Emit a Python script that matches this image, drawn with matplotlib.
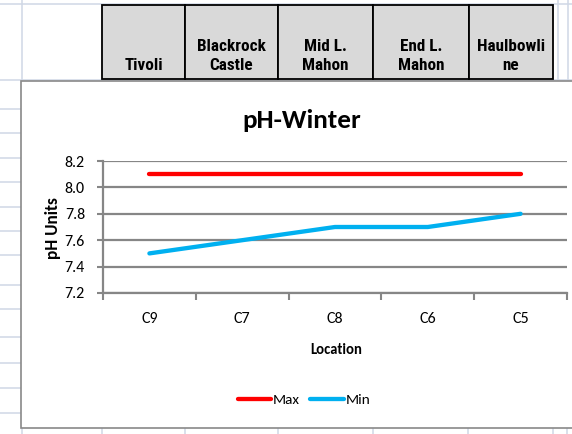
import matplotlib
matplotlib.use("Agg")
import matplotlib.pyplot as plt
from matplotlib.lines import Line2D
from matplotlib.patches import Rectangle
from matplotlib.ticker import FixedLocator, NullFormatter, FixedFormatter

stations = ["C9", "C7", "C8", "C6", "C5"]
ph_max = [8.1, 8.1, 8.1, 8.1, 8.1]
ph_min = [7.5, 7.6, 7.7, 7.7, 7.8]
header_names = ["Tivoli", "Blackrock\nCastle", "Mid L.\nMahon", "End L.\nMahon", "Haulbowli\nne"]
y_ticks = [7.2, 7.4, 7.6, 7.8, 8.0, 8.2]

W, H = 572, 434
GRID = "#d0d7e5"
AXGRAY = "#868686"
CHART_FONT = "Carlito"


def fx(px):
    return px / W


def fy(py):
    return 1 - py / H


fig = plt.figure(figsize=(W / 100, H / 100), dpi=100)
fig.patch.set_facecolor("white")


def sheet_line(x0, y0, x1, y1):
    fig.add_artist(Line2D([fx(x0), fx(x1)], [fy(y0), fy(y1)], color=GRID, lw=1.1,
                          transform=fig.transFigure, zorder=0))


# spreadsheet grid behind everything
sheet_line(0, 4, W, 4)
sheet_line(0, 80, W, 80)
for yy in [109, 133, 158, 182, 207, 231, 255, 285, 309, 337, 363, 388, 413]:
    sheet_line(0, yy, 21, yy)
for xx in [22, 558, 568]:
    sheet_line(xx, 0, xx, 80)
for xx in [22, 102, 185, 278, 373, 468, 553, 567]:
    sheet_line(xx, 428, xx, H)

# header table
col_edges = [102, 185, 278, 373, 469, 553]
for i, name in enumerate(header_names):
    x0, x1 = col_edges[i], col_edges[i + 1]
    fig.add_artist(Rectangle((fx(x0), fy(79)), fx(x1) - fx(x0), fy(5) - fy(79),
                             transform=fig.transFigure, facecolor="#d9d9d9",
                             edgecolor="black", lw=1.3, zorder=1))
    fig.text(fx((x0 + x1) / 2), fy(73), name, ha="center", va="bottom",
             fontsize=12.3, fontweight="bold", family="Roboto Condensed",
             linespacing=1.3, zorder=2)

# chart area frame
fig.add_artist(Rectangle((fx(21), fy(428)), fx(W + 20) - fx(21), fy(81) - fy(428),
                         transform=fig.transFigure, facecolor="white",
                         edgecolor="#898989", lw=1.2, zorder=1))

ax = fig.add_axes([fx(103), fy(293), fx(567) - fx(103), fy(161) - fy(293)])
ax.set_zorder(3)
ax.patch.set_alpha(0)
x = list(range(len(stations)))
ax.plot(x, ph_max, color="#ff0000", lw=3.1, solid_capstyle="round", label="Max", zorder=3)
ax.plot(x, ph_min, color="#00b0f0", lw=3.1, solid_capstyle="round", label="Min", zorder=3)

ax.set_xlim(-0.5, 4.5)
ax.set_ylim(7.2, 8.2)
ax.yaxis.set_major_locator(FixedLocator(y_ticks))
ax.yaxis.set_major_formatter(FixedFormatter(["%.1f" % v for v in y_ticks]))
ax.xaxis.set_major_locator(FixedLocator([i - 0.5 for i in range(len(stations) + 1)]))
ax.xaxis.set_major_formatter(NullFormatter())
ax.xaxis.set_minor_locator(FixedLocator(x))
ax.xaxis.set_minor_formatter(FixedFormatter(stations))
ax.grid(axis="y", color=AXGRAY, lw=1.6, zorder=1)
for s in ["top", "right"]:
    ax.spines[s].set_visible(False)
for s in ["left", "bottom"]:
    ax.spines[s].set_color(AXGRAY)
    ax.spines[s].set_linewidth(1.6)
ax.tick_params(axis="y", direction="out", length=4, width=1.5, color=AXGRAY,
               pad=9, labelsize=11.5)
ax.tick_params(axis="x", which="major", direction="out", length=5, width=1.5, color=AXGRAY)
ax.tick_params(axis="x", which="minor", length=0, pad=14, labelsize=11.5)
for lab in ax.get_yticklabels() + ax.get_xticklabels(minor=True):
    lab.set_family(CHART_FONT)

fig.text(fx(302), fy(128), "pH-Winter", ha="center", va="baseline",
         fontsize=19.5, fontweight="bold", family=CHART_FONT)
fig.text(fx(53), fy(228), "pH Units", ha="center", va="center", rotation=90,
         fontsize=12.5, fontweight="bold", family=CHART_FONT)
fig.text(fx(336), fy(350), "Location", ha="center", va="center",
         fontsize=10.5, fontweight="bold", family=CHART_FONT)

fig.legend(handles=ax.get_lines(), loc="center", bbox_to_anchor=(fx(304), fy(400)),
           ncol=2, frameon=False, handlelength=2.2, handletextpad=0.1,
           columnspacing=0.7, prop={"family": CHART_FONT, "size": 11})

fig.savefig("out.png", dpi=100)
